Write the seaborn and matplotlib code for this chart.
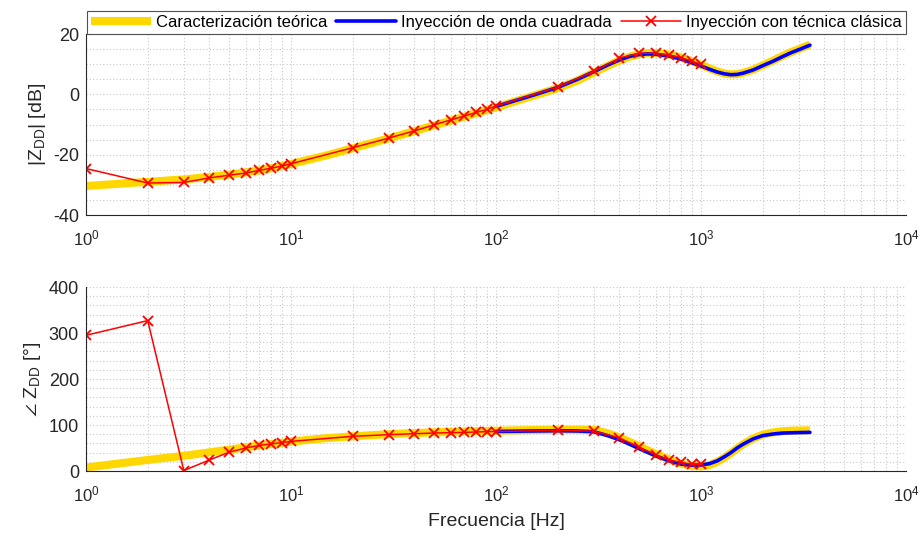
import numpy as np
import pandas as pd
import matplotlib
matplotlib.use("Agg")
import matplotlib.pyplot as plt
import matplotlib.ticker as mticker
import seaborn as sns

# ---------------- data ----------------
freq_clasica = [1, 2, 3, 4, 5, 6, 7, 8, 9, 10, 20, 30, 40, 50, 60, 70, 80, 90, 100,
                200, 300, 400, 500, 600, 700, 800, 900, 1000]
mag_clasica = [-24.6, -29.4, -29.2, -27.7, -26.8, -26.1, -25.2, -24.5, -23.8, -23.0,
               -17.7, -14.5, -12.1, -10.1, -8.5, -7.2, -6.0, -5.0, -3.9,
               2.4, 7.6, 12.0, 13.6, 13.6, 13.0, 12.1, 11.0, 9.9]
fase_clasica = [295, 327, 1, 24, 41, 50, 55.5, 59, 61.5, 64.4,
                75.4, 79, 81, 82.6, 83.3, 84, 84.8, 85.5, 85.8,
                88.4, 86.7, 71.8, 51.8, 34.8, 23.7, 18.5, 14.8, 14.8]

freq_teo = [1, 2, 3, 4, 5, 6, 7, 8, 10, 15, 20, 30, 40, 50, 70, 100, 150, 200, 250,
            300, 350, 400, 450, 500, 550, 600, 700, 800, 900, 1000, 1100, 1200, 1300,
            1400, 1500, 1600, 1800, 2000, 2250, 2500, 2750, 3000, 3400]
mag_teo = [-30.4, -29.0, -28.2, -27.4, -26.6, -25.9, -25.2, -24.5, -23.1, -20.2,
           -17.9, -14.6, -12.2, -10.3, -7.4, -4.3, -0.6, 2.0, 4.6,
           7.2, 9.4, 11.2, 12.5, 13.3, 13.7, 13.7, 13.2, 12.2, 11.0, 9.8, 8.6, 7.6, 6.9,
           6.6, 6.7, 7.1, 8.2, 9.6, 11.2, 12.7, 14.0, 15.0, 16.5]
fase_teo = [7.5, 24, 33, 40.5, 46.5, 51.5, 55.5, 58.5, 64, 71.5,
            75.5, 80, 82.5, 84, 86, 87.5, 89, 89.8, 90,
            89.5, 82, 73, 63, 54, 45, 37.5, 25, 16, 11, 10, 13, 20, 29,
            39, 49, 58, 71, 79, 84, 86.5, 87.5, 88, 88.5]

freq_cuad = [100, 150, 200, 250, 300, 350, 400, 450, 500, 550, 600, 700, 800, 900,
             1000, 1100, 1200, 1300, 1400, 1500, 1600, 1800, 2000, 2250, 2500, 2750,
             3000, 3400]
mag_cuad = [-4.0, -0.4, 2.3, 5.0, 7.5, 9.7, 11.4, 12.6, 13.2, 13.4, 13.3, 12.7, 11.7,
            10.5, 9.4, 8.3, 7.4, 6.8, 6.5, 6.6, 7.0, 8.1, 9.5, 11.0, 12.5, 13.8,
            14.8, 16.3]
fase_cuad = [86, 87, 87.5, 87, 85.5, 77, 68, 58, 48.5, 40.5, 33, 22, 15, 12.5,
             13, 16, 22, 31, 40, 50, 58, 70, 77, 80.5, 82.5, 83, 83.5, 84]

labels = ["Caracterización teórica", "Inyección de onda cuadrada",
          "Inyección con técnica clásica"]

# ---------------- style ----------------
sns.set_theme(style="white")
plt.rcParams["font.family"] = ["Liberation Sans", "DejaVu Sans"]
plt.rcParams["mathtext.fontset"] = "custom"
plt.rcParams["mathtext.rm"] = "Liberation Sans"
plt.rcParams["mathtext.it"] = "Liberation Sans"
plt.rcParams["mathtext.default"] = "regular"
plt.rcParams["axes.unicode_minus"] = False

axc = "#262626"
fig = plt.figure(figsize=(9.18, 5.35), dpi=100)
W, H = 918, 535
ax1 = fig.add_axes([86 / W, (H - 215) / H, 820 / W, 181 / H])
ax2 = fig.add_axes([86 / W, (H - 471) / H, 820 / W, 184 / H])

yellow = "#FFD700"
blue = "#0000FF"
red = "#FF0000"

for ax, yt, yc, yq, ylim, ymaj, ymin in [
    (ax1, mag_teo, mag_clasica, mag_cuad, (-40, 20), 20, 5),
    (ax2, fase_teo, fase_clasica, fase_cuad, (0, 400), 100, 20),
]:
    ax.set_xscale("log")
    sns.lineplot(x=freq_teo, y=yt, ax=ax, color=yellow, lw=5.8, label=labels[0],
                 solid_capstyle="butt", legend=False)
    sns.lineplot(x=freq_cuad, y=yq, ax=ax, color=blue, lw=2.6, label=labels[1],
                 legend=False)
    sns.lineplot(x=freq_clasica, y=yc, ax=ax, color=red, lw=1.1, marker="x",
                 markersize=6.5, markeredgewidth=1.3, markeredgecolor=red,
                 label=labels[2], legend=False)
    ax.set_xlim(1, 1e4)
    ax.set_ylim(*ylim)
    ax.yaxis.set_major_locator(mticker.MultipleLocator(ymaj))
    ax.yaxis.set_minor_locator(mticker.MultipleLocator(ymin))
    ax.xaxis.set_major_locator(mticker.LogLocator(base=10, numticks=10))
    ax.xaxis.set_minor_locator(mticker.LogLocator(base=10, subs=np.arange(2, 10), numticks=20))
    ax.xaxis.set_minor_formatter(mticker.NullFormatter())
    ax.grid(True, which="both", color="#c8c8c8", linestyle=(0, (1, 2)), lw=0.8)
    ax.set_axisbelow(True)
    for s in ["top", "right"]:
        ax.spines[s].set_visible(False)
    for s in ["left", "bottom"]:
        ax.spines[s].set_color(axc)
        ax.spines[s].set_linewidth(0.8)
    ax.tick_params(axis="both", which="major", direction="in", length=4.5,
                   width=0.8, color=axc, labelcolor=axc, labelsize=13, pad=5)
    ax.tick_params(axis="x", which="major", labelsize=12, pad=10)
    ax.tick_params(axis="x", which="minor", direction="in", length=2.5,
                   width=0.6, color=axc)
    ax.tick_params(axis="y", which="minor", length=0)
    ax.set_xlabel("")
    ax.set_ylabel("")

ax1.set_ylabel("$|Z_{DD}|$ [dB]", fontsize=14, color=axc, labelpad=4)
ax2.set_ylabel(r"$\angle\ Z_{DD}$ [°]", fontsize=14, color=axc, labelpad=4)
ax2.set_xlabel("Frecuencia [Hz]", fontsize=14, color=axc, labelpad=6)

handles, labs = ax1.get_legend_handles_labels()
leg = fig.legend(handles, labs, loc="center", ncol=3, mode="expand",
                 bbox_to_anchor=(87 / W, (H - 37) / H, 819 / W, 29 / H),
                 fontsize=12, handlelength=3.6, handletextpad=0.3,
                 borderpad=0.25, borderaxespad=0, frameon=True, fancybox=False)
leg.get_frame().set_edgecolor("#262626")
leg.get_frame().set_linewidth(0.8)
for t in leg.get_texts():
    t.set_color("#000000")

fig.savefig("out.png", dpi=100)
